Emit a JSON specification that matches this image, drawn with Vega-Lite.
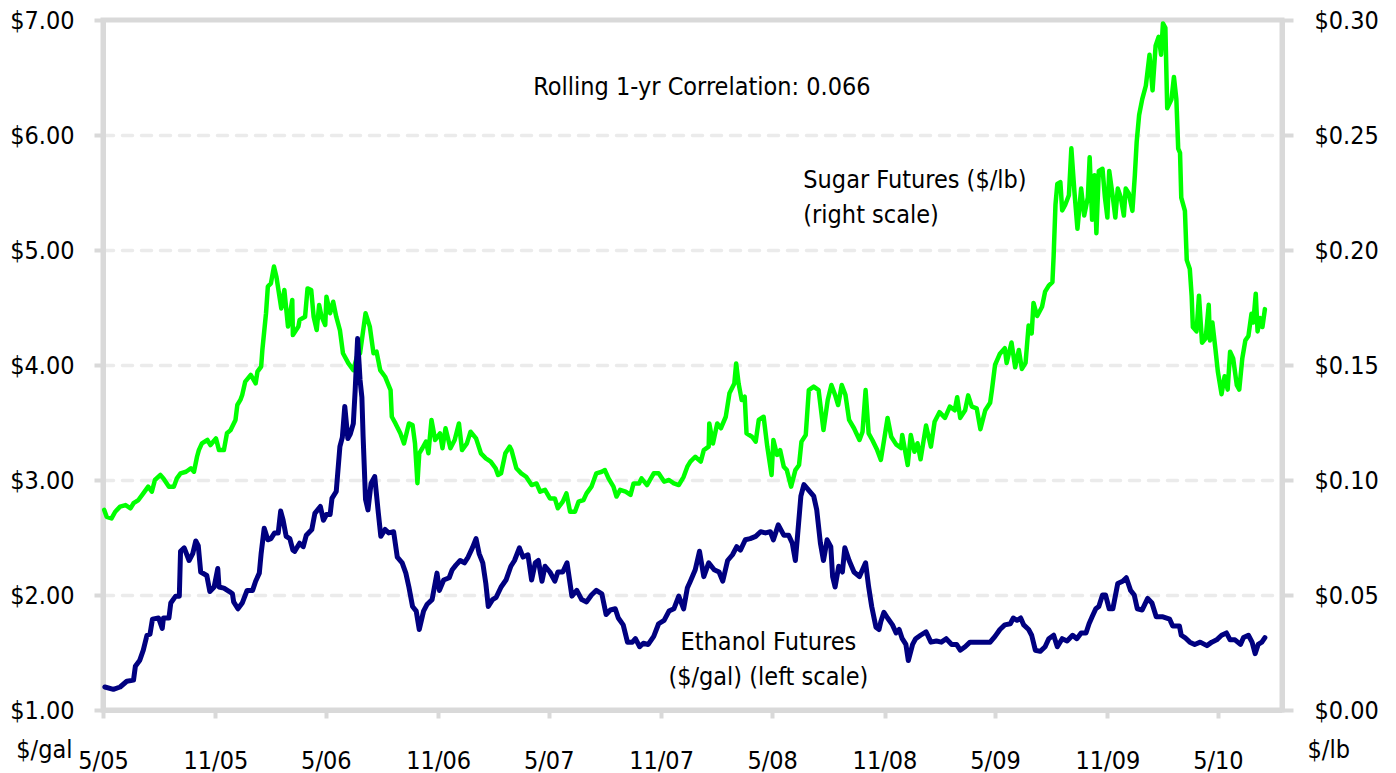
{
  "$schema": "https://vega.github.io/schema/vega-lite/v6.json",
  "width": 1179,
  "height": 690,
  "autosize": {"type": "none"},
  "padding": {"left": 103, "top": 20, "right": 114, "bottom": 63},
  "background": "white",
  "config": {
    "font": "'DejaVu Sans Condensed', 'Liberation Sans', sans-serif",
    "view": {"stroke": "#d9d9d9", "strokeWidth": 5},
    "axis": {
      "labelFont": "'DejaVu Sans Condensed', 'Liberation Sans', sans-serif", "labelFontSize": 25, "labelColor": "#000000",
      "titleFont": "'DejaVu Sans Condensed', 'Liberation Sans', sans-serif", "titleFontSize": 25, "titleFontWeight": "normal", "titleColor": "#000000",
      "domainColor": "#d9d9d9", "domainWidth": 5, "tickColor": "#d9d9d9", "tickWidth": 4,
      "labelOverlap": false, "labelFlush": false
    },
    "text": {"font": "'DejaVu Sans Condensed', 'Liberation Sans', sans-serif", "fontSize": 25, "color": "#000000"}
  },
  "datasets": {
    "sugar": [
      {"date":"2005-05-03","price":0.0870},{"date":"2005-05-07","price":0.0840},{"date":"2005-05-15","price":0.0833},{"date":"2005-05-21","price":0.0862},{"date":"2005-05-29","price":0.0884},
      {"date":"2005-06-07","price":0.0891},{"date":"2005-06-15","price":0.0877},{"date":"2005-06-20","price":0.0899},{"date":"2005-06-28","price":0.0913},{"date":"2005-07-06","price":0.0942},
      {"date":"2005-07-14","price":0.0971},{"date":"2005-07-20","price":0.0949},{"date":"2005-07-25","price":0.1000},{"date":"2005-08-03","price":0.1022},{"date":"2005-08-08","price":0.1007},
      {"date":"2005-08-17","price":0.0971},{"date":"2005-08-25","price":0.0971},{"date":"2005-08-30","price":0.1007},{"date":"2005-09-05","price":0.1029},{"date":"2005-09-14","price":0.1036},
      {"date":"2005-09-22","price":0.1051},{"date":"2005-09-27","price":0.1036},{"date":"2005-10-02","price":0.1101},{"date":"2005-10-05","price":0.1130},{"date":"2005-10-10","price":0.1159},
      {"date":"2005-10-19","price":0.1174},{"date":"2005-10-24","price":0.1152},{"date":"2005-11-02","price":0.1181},{"date":"2005-11-07","price":0.1130},{"date":"2005-11-15","price":0.1130},
      {"date":"2005-11-20","price":0.1203},{"date":"2005-11-26","price":0.1217},{"date":"2005-12-04","price":0.1261},{"date":"2005-12-07","price":0.1326},{"date":"2005-12-12","price":0.1348},
      {"date":"2005-12-15","price":0.1370},{"date":"2005-12-20","price":0.1428},{"date":"2005-12-29","price":0.1457},{"date":"2006-01-06","price":0.1420},{"date":"2006-01-09","price":0.1471},
      {"date":"2006-01-15","price":0.1493},{"date":"2006-01-17","price":0.1565},{"date":"2006-01-23","price":0.1725},{"date":"2006-01-26","price":0.1841},{"date":"2006-01-31","price":0.1855},
      {"date":"2006-02-05","price":0.1928},{"date":"2006-02-09","price":0.1884},{"date":"2006-02-17","price":0.1746},{"date":"2006-02-22","price":0.1826},{"date":"2006-02-28","price":0.1667},
      {"date":"2006-03-07","price":0.1783},{"date":"2006-03-08","price":0.1630},{"date":"2006-03-17","price":0.1667},{"date":"2006-03-19","price":0.1696},{"date":"2006-03-28","price":0.1710},
      {"date":"2006-04-01","price":0.1833},{"date":"2006-04-07","price":0.1826},{"date":"2006-04-11","price":0.1710},{"date":"2006-04-16","price":0.1652},{"date":"2006-04-20","price":0.1761},
      {"date":"2006-04-24","price":0.1710},{"date":"2006-04-30","price":0.1674},{"date":"2006-05-02","price":0.1797},{"date":"2006-05-08","price":0.1725},{"date":"2006-05-13","price":0.1775},
      {"date":"2006-05-18","price":0.1710},{"date":"2006-05-24","price":0.1652},{"date":"2006-05-29","price":0.1551},{"date":"2006-06-07","price":0.1507},{"date":"2006-06-15","price":0.1478},
      {"date":"2006-06-21","price":0.1536},{"date":"2006-06-26","price":0.1551},{"date":"2006-07-05","price":0.1725},{"date":"2006-07-12","price":0.1667},{"date":"2006-07-18","price":0.1551},
      {"date":"2006-07-23","price":0.1558},{"date":"2006-07-29","price":0.1478},{"date":"2006-08-06","price":0.1449},{"date":"2006-08-15","price":0.1391},{"date":"2006-08-17","price":0.1275},
      {"date":"2006-08-23","price":0.1246},{"date":"2006-08-31","price":0.1203},{"date":"2006-09-06","price":0.1159},{"date":"2006-09-14","price":0.1246},{"date":"2006-09-20","price":0.1239},
      {"date":"2006-09-24","price":0.1159},{"date":"2006-09-28","price":0.0986},{"date":"2006-10-01","price":0.1116},{"date":"2006-10-06","price":0.1138},{"date":"2006-10-12","price":0.1167},
      {"date":"2006-10-16","price":0.1116},{"date":"2006-10-21","price":0.1261},{"date":"2006-10-27","price":0.1174},{"date":"2006-11-04","price":0.1203},{"date":"2006-11-08","price":0.1138},
      {"date":"2006-11-13","price":0.1225},{"date":"2006-11-21","price":0.1138},{"date":"2006-11-28","price":0.1174},{"date":"2006-12-05","price":0.1246},{"date":"2006-12-10","price":0.1130},
      {"date":"2006-12-18","price":0.1159},{"date":"2006-12-24","price":0.1210},{"date":"2007-01-02","price":0.1181},{"date":"2007-01-10","price":0.1116},{"date":"2007-01-18","price":0.1094},
      {"date":"2007-01-26","price":0.1080},{"date":"2007-02-03","price":0.1051},{"date":"2007-02-07","price":0.1022},{"date":"2007-02-12","price":0.1029},{"date":"2007-02-19","price":0.1116},
      {"date":"2007-02-26","price":0.1145},{"date":"2007-03-01","price":0.1130},{"date":"2007-03-09","price":0.1051},{"date":"2007-03-17","price":0.1029},{"date":"2007-03-25","price":0.1014},
      {"date":"2007-04-03","price":0.0978},{"date":"2007-04-11","price":0.0985},{"date":"2007-04-17","price":0.0949},{"date":"2007-04-25","price":0.0957},{"date":"2007-05-03","price":0.0920},
      {"date":"2007-05-11","price":0.0920},{"date":"2007-05-16","price":0.0877},{"date":"2007-05-24","price":0.0906},{"date":"2007-05-30","price":0.0942},{"date":"2007-06-05","price":0.0862},
      {"date":"2007-06-13","price":0.0862},{"date":"2007-06-19","price":0.0906},{"date":"2007-06-27","price":0.0913},{"date":"2007-07-02","price":0.0942},{"date":"2007-07-10","price":0.0971},
      {"date":"2007-07-18","price":0.1029},{"date":"2007-07-27","price":0.1036},{"date":"2007-08-01","price":0.1043},{"date":"2007-08-07","price":0.1007},{"date":"2007-08-15","price":0.0971},
      {"date":"2007-08-20","price":0.0928},{"date":"2007-08-26","price":0.0957},{"date":"2007-09-04","price":0.0949},{"date":"2007-09-12","price":0.0935},{"date":"2007-09-17","price":0.0985},
      {"date":"2007-09-26","price":0.0985},{"date":"2007-09-30","price":0.1007},{"date":"2007-10-09","price":0.0978},{"date":"2007-10-20","price":0.1029},{"date":"2007-10-28","price":0.1029},
      {"date":"2007-11-06","price":0.0993},{"date":"2007-11-14","price":0.1000},{"date":"2007-11-22","price":0.0985},{"date":"2007-11-30","price":0.0978},{"date":"2007-12-08","price":0.1014},
      {"date":"2007-12-14","price":0.1058},{"date":"2007-12-19","price":0.1080},{"date":"2007-12-27","price":0.1101},{"date":"2008-01-05","price":0.1080},{"date":"2008-01-10","price":0.1130},
      {"date":"2008-01-18","price":0.1145},{"date":"2008-01-19","price":0.1246},{"date":"2008-01-25","price":0.1159},{"date":"2008-02-01","price":0.1246},{"date":"2008-02-07","price":0.1225},
      {"date":"2008-02-15","price":0.1275},{"date":"2008-02-21","price":0.1377},{"date":"2008-02-29","price":0.1420},{"date":"2008-03-03","price":0.1507},{"date":"2008-03-07","price":0.1420},
      {"date":"2008-03-12","price":0.1348},{"date":"2008-03-17","price":0.1362},{"date":"2008-03-20","price":0.1203},{"date":"2008-03-29","price":0.1188},{"date":"2008-04-04","price":0.1167},
      {"date":"2008-04-09","price":0.1261},{"date":"2008-04-17","price":0.1275},{"date":"2008-04-23","price":0.1145},{"date":"2008-04-30","price":0.1022},{"date":"2008-05-03","price":0.1174},
      {"date":"2008-05-09","price":0.1109},{"date":"2008-05-14","price":0.1130},{"date":"2008-05-20","price":0.1058},{"date":"2008-05-25","price":0.1043},{"date":"2008-06-01","price":0.0971},
      {"date":"2008-06-08","price":0.1043},{"date":"2008-06-14","price":0.1065},{"date":"2008-06-18","price":0.1167},{"date":"2008-06-25","price":0.1196},{"date":"2008-06-30","price":0.1391},
      {"date":"2008-07-08","price":0.1406},{"date":"2008-07-16","price":0.1391},{"date":"2008-07-24","price":0.1217},{"date":"2008-07-31","price":0.1348},{"date":"2008-08-06","price":0.1413},
      {"date":"2008-08-12","price":0.1370},{"date":"2008-08-17","price":0.1326},{"date":"2008-08-23","price":0.1413},{"date":"2008-08-29","price":0.1370},{"date":"2008-09-04","price":0.1261},
      {"date":"2008-09-12","price":0.1225},{"date":"2008-09-21","price":0.1174},{"date":"2008-09-26","price":0.1210},{"date":"2008-10-01","price":0.1391},{"date":"2008-10-06","price":0.1203},
      {"date":"2008-10-12","price":0.1174},{"date":"2008-10-20","price":0.1130},{"date":"2008-10-26","price":0.1087},{"date":"2008-11-02","price":0.1203},{"date":"2008-11-06","price":0.1270},
      {"date":"2008-11-12","price":0.1188},{"date":"2008-11-20","price":0.1155},{"date":"2008-11-28","price":0.1139},{"date":"2008-11-30","price":0.1196},{"date":"2008-12-09","price":0.1065},
      {"date":"2008-12-14","price":0.1196},{"date":"2008-12-20","price":0.1123},{"date":"2008-12-25","price":0.1160},{"date":"2008-12-30","price":0.1090},{"date":"2009-01-08","price":0.1237},
      {"date":"2009-01-16","price":0.1145},{"date":"2009-01-22","price":0.1253},{"date":"2009-01-30","price":0.1295},{"date":"2009-02-08","price":0.1270},{"date":"2009-02-16","price":0.1319},
      {"date":"2009-02-24","price":0.1303},{"date":"2009-02-28","price":0.1360},{"date":"2009-03-05","price":0.1270},{"date":"2009-03-13","price":0.1303},{"date":"2009-03-18","price":0.1368},
      {"date":"2009-03-24","price":0.1319},{"date":"2009-04-01","price":0.1311},{"date":"2009-04-07","price":0.1221},{"date":"2009-04-15","price":0.1303},{"date":"2009-04-23","price":0.1336},
      {"date":"2009-04-26","price":0.1393},{"date":"2009-05-01","price":0.1500},{"date":"2009-05-09","price":0.1549},{"date":"2009-05-17","price":0.1573},{"date":"2009-05-20","price":0.1509},
      {"date":"2009-05-28","price":0.1598},{"date":"2009-06-03","price":0.1490},{"date":"2009-06-09","price":0.1565},{"date":"2009-06-14","price":0.1483},{"date":"2009-06-20","price":0.1509},
      {"date":"2009-06-25","price":0.1672},{"date":"2009-06-30","price":0.1637},{"date":"2009-07-03","price":0.1770},{"date":"2009-07-09","price":0.1713},{"date":"2009-07-17","price":0.1753},
      {"date":"2009-07-22","price":0.1819},{"date":"2009-07-28","price":0.1845},{"date":"2009-08-03","price":0.1860},{"date":"2009-08-05","price":0.1975},{"date":"2009-08-08","price":0.2197},
      {"date":"2009-08-11","price":0.2287},{"date":"2009-08-16","price":0.2295},{"date":"2009-08-19","price":0.2172},{"date":"2009-08-24","price":0.2197},{"date":"2009-08-30","price":0.2238},
      {"date":"2009-09-03","price":0.2442},{"date":"2009-09-08","price":0.2254},{"date":"2009-09-13","price":0.2092},{"date":"2009-09-19","price":0.2267},{"date":"2009-09-24","price":0.2150},
      {"date":"2009-09-30","price":0.2228},{"date":"2009-10-03","price":0.2403},{"date":"2009-10-07","price":0.2131},{"date":"2009-10-11","price":0.2325},{"date":"2009-10-14","price":0.2073},
      {"date":"2009-10-18","price":0.2344},{"date":"2009-10-24","price":0.2353},{"date":"2009-10-28","price":0.2228},{"date":"2009-11-01","price":0.2141},{"date":"2009-11-04","price":0.2344},
      {"date":"2009-11-10","price":0.2228},{"date":"2009-11-14","price":0.2141},{"date":"2009-11-18","price":0.2267},{"date":"2009-11-23","price":0.2228},{"date":"2009-11-28","price":0.2150},
      {"date":"2009-12-01","price":0.2267},{"date":"2009-12-06","price":0.2247},{"date":"2009-12-12","price":0.2170},{"date":"2009-12-16","price":0.2325},{"date":"2009-12-19","price":0.2470},
      {"date":"2009-12-23","price":0.2587},{"date":"2009-12-28","price":0.2655},{"date":"2010-01-03","price":0.2714},{"date":"2010-01-09","price":0.2849},{"date":"2010-01-14","price":0.2694},
      {"date":"2010-01-19","price":0.2888},{"date":"2010-01-24","price":0.2927},{"date":"2010-01-28","price":0.2849},{"date":"2010-01-31","price":0.2985},{"date":"2010-02-04","price":0.2966},
      {"date":"2010-02-07","price":0.2616},{"date":"2010-02-14","price":0.2655},{"date":"2010-02-18","price":0.2752},{"date":"2010-02-22","price":0.2655},{"date":"2010-02-25","price":0.2441},
      {"date":"2010-02-28","price":0.2422},{"date":"2010-03-02","price":0.2228},{"date":"2010-03-08","price":0.2170},{"date":"2010-03-11","price":0.1956},{"date":"2010-03-16","price":0.1917},
      {"date":"2010-03-19","price":0.1801},{"date":"2010-03-21","price":0.1665},{"date":"2010-03-27","price":0.1646},{"date":"2010-03-31","price":0.1801},{"date":"2010-04-05","price":0.1597},
      {"date":"2010-04-11","price":0.1616},{"date":"2010-04-16","price":0.1762},{"date":"2010-04-18","price":0.1607},{"date":"2010-04-22","price":0.1685},{"date":"2010-04-27","price":0.1568},
      {"date":"2010-05-01","price":0.1470},{"date":"2010-05-07","price":0.1373},{"date":"2010-05-12","price":0.1451},{"date":"2010-05-17","price":0.1393},{"date":"2010-05-21","price":0.1558},
      {"date":"2010-05-26","price":0.1529},{"date":"2010-06-01","price":0.1412},{"date":"2010-06-05","price":0.1393},{"date":"2010-06-10","price":0.1529},{"date":"2010-06-15","price":0.1607},
      {"date":"2010-06-20","price":0.1626},{"date":"2010-06-25","price":0.1723},{"date":"2010-06-28","price":0.1685},{"date":"2010-07-02","price":0.1810},{"date":"2010-07-05","price":0.1646},
      {"date":"2010-07-09","price":0.1704},{"date":"2010-07-13","price":0.1665},{"date":"2010-07-17","price":0.1743}
    ],
    "ethanol": [
      {"date":"2005-05-04","price":1.20},{"date":"2005-05-18","price":1.18},{"date":"2005-05-29","price":1.20},{"date":"2005-06-09","price":1.25},{"date":"2005-06-20","price":1.26},
      {"date":"2005-06-23","price":1.38},{"date":"2005-06-30","price":1.43},{"date":"2005-07-06","price":1.52},{"date":"2005-07-12","price":1.65},{"date":"2005-07-17","price":1.66},
      {"date":"2005-07-21","price":1.79},{"date":"2005-07-31","price":1.80},{"date":"2005-08-06","price":1.71},{"date":"2005-08-08","price":1.80},{"date":"2005-08-17","price":1.80},
      {"date":"2005-08-20","price":1.93},{"date":"2005-08-28","price":1.99},{"date":"2005-09-03","price":1.99},{"date":"2005-09-05","price":2.38},{"date":"2005-09-11","price":2.41},
      {"date":"2005-09-19","price":2.30},{"date":"2005-09-25","price":2.36},{"date":"2005-09-30","price":2.47},{"date":"2005-10-04","price":2.43},{"date":"2005-10-08","price":2.20},
      {"date":"2005-10-18","price":2.17},{"date":"2005-10-23","price":2.03},{"date":"2005-10-30","price":2.07},{"date":"2005-11-05","price":2.23},{"date":"2005-11-07","price":2.07},
      {"date":"2005-11-15","price":2.06},{"date":"2005-11-24","price":2.03},{"date":"2005-11-29","price":2.01},{"date":"2005-12-01","price":1.94},{"date":"2005-12-08","price":1.88},
      {"date":"2005-12-15","price":1.93},{"date":"2005-12-23","price":2.04},{"date":"2006-01-01","price":2.04},{"date":"2006-01-06","price":2.12},{"date":"2006-01-12","price":2.19},
      {"date":"2006-01-15","price":2.36},{"date":"2006-01-20","price":2.58},{"date":"2006-01-26","price":2.48},{"date":"2006-01-31","price":2.49},{"date":"2006-02-06","price":2.54},
      {"date":"2006-02-12","price":2.54},{"date":"2006-02-16","price":2.73},{"date":"2006-02-20","price":2.65},{"date":"2006-02-25","price":2.51},{"date":"2006-03-03","price":2.49},
      {"date":"2006-03-08","price":2.39},{"date":"2006-03-11","price":2.38},{"date":"2006-03-19","price":2.45},{"date":"2006-03-25","price":2.42},{"date":"2006-03-30","price":2.52},
      {"date":"2006-04-08","price":2.57},{"date":"2006-04-13","price":2.71},{"date":"2006-04-22","price":2.77},{"date":"2006-04-27","price":2.65},{"date":"2006-05-02","price":2.70},
      {"date":"2006-05-08","price":2.70},{"date":"2006-05-11","price":2.84},{"date":"2006-05-18","price":2.90},{"date":"2006-05-24","price":3.29},{"date":"2006-05-28","price":3.37},
      {"date":"2006-06-01","price":3.64},{"date":"2006-06-06","price":3.36},{"date":"2006-06-10","price":3.40},{"date":"2006-06-15","price":3.49},{"date":"2006-06-18","price":3.78},
      {"date":"2006-06-22","price":4.23},{"date":"2006-06-26","price":3.87},{"date":"2006-06-29","price":3.72},{"date":"2006-07-01","price":3.38},{"date":"2006-07-05","price":2.83},
      {"date":"2006-07-09","price":2.74},{"date":"2006-07-14","price":2.97},{"date":"2006-07-20","price":3.03},{"date":"2006-07-26","price":2.71},{"date":"2006-07-30","price":2.51},
      {"date":"2006-08-06","price":2.57},{"date":"2006-08-12","price":2.54},{"date":"2006-08-20","price":2.55},{"date":"2006-08-26","price":2.33},{"date":"2006-09-03","price":2.28},
      {"date":"2006-09-09","price":2.19},{"date":"2006-09-14","price":2.07},{"date":"2006-09-20","price":1.90},{"date":"2006-09-26","price":1.86},{"date":"2006-10-01","price":1.70},
      {"date":"2006-10-08","price":1.86},{"date":"2006-10-14","price":1.92},{"date":"2006-10-22","price":1.96},{"date":"2006-10-30","price":2.19},{"date":"2006-11-03","price":2.04},
      {"date":"2006-11-10","price":2.13},{"date":"2006-11-19","price":2.15},{"date":"2006-11-24","price":2.22},{"date":"2006-11-30","price":2.26},{"date":"2006-12-07","price":2.30},
      {"date":"2006-12-14","price":2.28},{"date":"2006-12-20","price":2.33},{"date":"2006-12-27","price":2.41},{"date":"2007-01-02","price":2.49},{"date":"2007-01-07","price":2.36},
      {"date":"2007-01-13","price":2.28},{"date":"2007-01-18","price":2.10},{"date":"2007-01-22","price":1.90},{"date":"2007-01-29","price":1.96},{"date":"2007-02-04","price":1.98},
      {"date":"2007-02-12","price":2.07},{"date":"2007-02-20","price":2.13},{"date":"2007-02-28","price":2.25},{"date":"2007-03-06","price":2.30},{"date":"2007-03-14","price":2.41},
      {"date":"2007-03-20","price":2.33},{"date":"2007-03-28","price":2.35},{"date":"2007-04-03","price":2.13},{"date":"2007-04-09","price":2.28},{"date":"2007-04-14","price":2.30},
      {"date":"2007-04-20","price":2.12},{"date":"2007-04-25","price":2.25},{"date":"2007-05-03","price":2.20},{"date":"2007-05-11","price":2.12},{"date":"2007-05-16","price":2.20},
      {"date":"2007-05-24","price":2.20},{"date":"2007-05-31","price":2.28},{"date":"2007-06-08","price":1.99},{"date":"2007-06-16","price":2.04},{"date":"2007-06-24","price":1.96},
      {"date":"2007-07-02","price":1.94},{"date":"2007-07-10","price":2.00},{"date":"2007-07-18","price":2.04},{"date":"2007-07-27","price":2.01},{"date":"2007-08-03","price":1.83},
      {"date":"2007-08-10","price":1.87},{"date":"2007-08-18","price":1.88},{"date":"2007-08-23","price":1.80},{"date":"2007-08-31","price":1.74},{"date":"2007-09-07","price":1.59},
      {"date":"2007-09-15","price":1.59},{"date":"2007-09-20","price":1.62},{"date":"2007-09-27","price":1.55},{"date":"2007-10-03","price":1.58},{"date":"2007-10-11","price":1.57},
      {"date":"2007-10-20","price":1.64},{"date":"2007-10-28","price":1.75},{"date":"2007-11-06","price":1.78},{"date":"2007-11-14","price":1.86},{"date":"2007-11-22","price":1.88},
      {"date":"2007-11-30","price":1.99},{"date":"2007-12-08","price":1.88},{"date":"2007-12-14","price":2.06},{"date":"2007-12-19","price":2.12},{"date":"2007-12-27","price":2.22},
      {"date":"2008-01-03","price":2.38},{"date":"2008-01-10","price":2.16},{"date":"2008-01-18","price":2.28},{"date":"2008-01-27","price":2.22},{"date":"2008-02-04","price":2.20},
      {"date":"2008-02-10","price":2.12},{"date":"2008-02-18","price":2.30},{"date":"2008-02-26","price":2.35},{"date":"2008-03-04","price":2.42},{"date":"2008-03-10","price":2.39},
      {"date":"2008-03-18","price":2.48},{"date":"2008-03-26","price":2.49},{"date":"2008-04-04","price":2.51},{"date":"2008-04-12","price":2.55},{"date":"2008-04-20","price":2.54},
      {"date":"2008-04-28","price":2.55},{"date":"2008-05-03","price":2.48},{"date":"2008-05-11","price":2.61},{"date":"2008-05-20","price":2.52},{"date":"2008-05-28","price":2.52},
      {"date":"2008-06-03","price":2.45},{"date":"2008-06-08","price":2.30},{"date":"2008-06-11","price":2.48},{"date":"2008-06-17","price":2.86},{"date":"2008-06-22","price":2.96},
      {"date":"2008-06-30","price":2.91},{"date":"2008-07-08","price":2.86},{"date":"2008-07-13","price":2.74},{"date":"2008-07-19","price":2.45},{"date":"2008-07-24","price":2.30},
      {"date":"2008-07-30","price":2.48},{"date":"2008-08-05","price":2.42},{"date":"2008-08-08","price":2.16},{"date":"2008-08-12","price":2.07},{"date":"2008-08-18","price":2.25},
      {"date":"2008-08-24","price":2.20},{"date":"2008-08-28","price":2.41},{"date":"2008-09-04","price":2.30},{"date":"2008-09-12","price":2.20},{"date":"2008-09-21","price":2.16},
      {"date":"2008-10-01","price":2.28},{"date":"2008-10-06","price":2.07},{"date":"2008-10-11","price":1.90},{"date":"2008-10-18","price":1.72},{"date":"2008-10-23","price":1.70},
      {"date":"2008-10-26","price":1.77},{"date":"2008-10-31","price":1.85},{"date":"2008-11-06","price":1.80},{"date":"2008-11-14","price":1.74},{"date":"2008-11-20","price":1.67},
      {"date":"2008-11-25","price":1.70},{"date":"2008-11-30","price":1.62},{"date":"2008-12-06","price":1.57},{"date":"2008-12-10","price":1.43},{"date":"2008-12-17","price":1.57},
      {"date":"2008-12-22","price":1.62},{"date":"2008-12-30","price":1.65},{"date":"2009-01-08","price":1.68},{"date":"2009-01-16","price":1.59},{"date":"2009-01-25","price":1.60},
      {"date":"2009-02-02","price":1.59},{"date":"2009-02-10","price":1.62},{"date":"2009-02-19","price":1.57},{"date":"2009-02-27","price":1.57},{"date":"2009-03-05","price":1.52},
      {"date":"2009-03-13","price":1.55},{"date":"2009-03-21","price":1.59},{"date":"2009-03-29","price":1.59},{"date":"2009-04-07","price":1.59},{"date":"2009-04-15","price":1.59},
      {"date":"2009-04-23","price":1.59},{"date":"2009-05-01","price":1.64},{"date":"2009-05-09","price":1.70},{"date":"2009-05-17","price":1.74},{"date":"2009-05-26","price":1.75},
      {"date":"2009-05-31","price":1.80},{"date":"2009-06-06","price":1.78},{"date":"2009-06-12","price":1.80},{"date":"2009-06-17","price":1.74},{"date":"2009-06-25","price":1.70},
      {"date":"2009-06-30","price":1.65},{"date":"2009-07-06","price":1.52},{"date":"2009-07-14","price":1.51},{"date":"2009-07-22","price":1.55},{"date":"2009-07-28","price":1.62},
      {"date":"2009-08-05","price":1.65},{"date":"2009-08-11","price":1.55},{"date":"2009-08-19","price":1.62},{"date":"2009-08-27","price":1.60},{"date":"2009-09-05","price":1.65},
      {"date":"2009-09-12","price":1.62},{"date":"2009-09-19","price":1.67},{"date":"2009-09-27","price":1.67},{"date":"2009-10-02","price":1.75},{"date":"2009-10-07","price":1.81},
      {"date":"2009-10-13","price":1.88},{"date":"2009-10-18","price":1.90},{"date":"2009-10-24","price":2.00},{"date":"2009-10-29","price":2.00},{"date":"2009-11-04","price":1.88},
      {"date":"2009-11-10","price":1.88},{"date":"2009-11-18","price":2.10},{"date":"2009-11-26","price":2.12},{"date":"2009-12-02","price":2.15},{"date":"2009-12-09","price":2.04},
      {"date":"2009-12-15","price":2.00},{"date":"2009-12-20","price":1.88},{"date":"2009-12-28","price":1.87},{"date":"2010-01-06","price":1.97},{"date":"2010-01-13","price":1.93},
      {"date":"2010-01-20","price":1.81},{"date":"2010-01-31","price":1.81},{"date":"2010-02-11","price":1.79},{"date":"2010-02-16","price":1.73},{"date":"2010-02-27","price":1.73},
      {"date":"2010-03-02","price":1.65},{"date":"2010-03-08","price":1.63},{"date":"2010-03-16","price":1.59},{"date":"2010-03-24","price":1.57},{"date":"2010-04-02","price":1.59},
      {"date":"2010-04-13","price":1.56},{"date":"2010-04-21","price":1.59},{"date":"2010-04-29","price":1.61},{"date":"2010-05-07","price":1.65},{"date":"2010-05-15","price":1.67},
      {"date":"2010-05-21","price":1.61},{"date":"2010-05-29","price":1.61},{"date":"2010-06-07","price":1.57},{"date":"2010-06-12","price":1.63},{"date":"2010-06-20","price":1.65},
      {"date":"2010-06-26","price":1.59},{"date":"2010-07-01","price":1.49},{"date":"2010-07-06","price":1.57},{"date":"2010-07-12","price":1.59},{"date":"2010-07-17","price":1.63}
    ]
  },
  "layer": [
    {
      "data": {"name": "sugar"},
      "mark": {"type": "line", "color": "#00ff00", "strokeWidth": 4.5, "strokeJoin": "round", "strokeCap": "round"},
      "encoding": {
        "x": {
          "field": "date", "type": "temporal",
          "scale": {"type": "utc", "domain": [{"year": 2005, "month": 5, "date": 1, "utc": true}, {"year": 2010, "month": 8, "date": 14, "utc": true}]},
          "axis": {
            "title": null, "format": "%-m/%y", "grid": false, "tickSize": 8, "labelPadding": 30,
            "values": [
              {"year": 2005, "month": 5, "date": 1, "utc": true}, {"year": 2005, "month": 11, "date": 1, "utc": true},
              {"year": 2006, "month": 5, "date": 1, "utc": true}, {"year": 2006, "month": 11, "date": 1, "utc": true},
              {"year": 2007, "month": 5, "date": 1, "utc": true}, {"year": 2007, "month": 11, "date": 1, "utc": true},
              {"year": 2008, "month": 5, "date": 1, "utc": true}, {"year": 2008, "month": 11, "date": 1, "utc": true},
              {"year": 2009, "month": 5, "date": 1, "utc": true}, {"year": 2009, "month": 11, "date": 1, "utc": true},
              {"year": 2010, "month": 5, "date": 1, "utc": true}
            ]
          }
        },
        "y": {
          "field": "price", "type": "quantitative",
          "scale": {"domain": [0, 0.3], "nice": false, "zero": false},
          "axis": {
            "orient": "right", "values": [0, 0.05, 0.1, 0.15, 0.2, 0.25, 0.3], "format": "$.2f",
            "grid": false, "tickSize": 11, "labelPadding": 21,
            "title": "$/lb", "titleAngle": 0, "titleAlign": "left", "titleBaseline": "alphabetic", "titleX": 25, "titleY": 737
          }
        }
      }
    },
    {
      "layer": [
        {
          "data": {"name": "ethanol"},
          "mark": {"type": "line", "color": "#000080", "strokeWidth": 5, "strokeJoin": "round", "strokeCap": "round"},
          "encoding": {
            "x": {"field": "date", "type": "temporal", "scale": {"type": "utc", "domain": [{"year": 2005, "month": 5, "date": 1, "utc": true}, {"year": 2010, "month": 8, "date": 14, "utc": true}]}},
            "y": {
              "field": "price", "type": "quantitative",
              "scale": {"domain": [1, 7], "nice": false, "zero": false},
              "axis": {
                "orient": "left", "values": [1, 2, 3, 4, 5, 6, 7], "format": "$.2f",
                "tickSize": 9, "labelPadding": 20,
                "grid": true, "gridWidth": 3.5, "gridDash": [10, 9], "gridCap": "round",
                "gridColor": {"condition": {"test": "datum.value <= 1 || datum.value >= 7", "value": "rgba(0,0,0,0)"}, "value": "#ebebeb"},
                "title": "$/gal", "titleAngle": 0, "titleAlign": "right", "titleBaseline": "alphabetic", "titleX": -31, "titleY": 737
              }
            }
          }
        },
        {
          "data": {"values": [{}]},
          "mark": {"type": "text", "text": "Rolling 1-yr Correlation: 0.066", "align": "center", "baseline": "alphabetic"},
          "encoding": {
            "x": {"datum": {"year": 2008, "month": 1, "date": 7, "utc": true}, "type": "temporal", "scale": {"type": "utc"}},
            "y": {"datum": 6.348, "type": "quantitative"}
          }
        },
        {
          "data": {"values": [{}]},
          "mark": {"type": "text", "text": "Sugar Futures ($/lb)", "align": "left", "baseline": "alphabetic"},
          "encoding": {
            "x": {"datum": {"year": 2008, "month": 6, "date": 21, "utc": true}, "type": "temporal", "scale": {"type": "utc"}},
            "y": {"datum": 5.539, "type": "quantitative"}
          }
        },
        {
          "data": {"values": [{}]},
          "mark": {"type": "text", "text": "(right scale)", "align": "left", "baseline": "alphabetic"},
          "encoding": {
            "x": {"datum": {"year": 2008, "month": 6, "date": 21, "utc": true}, "type": "temporal", "scale": {"type": "utc"}},
            "y": {"datum": 5.235, "type": "quantitative"}
          }
        },
        {
          "data": {"values": [{}]},
          "mark": {"type": "text", "text": "Ethanol Futures", "align": "left", "baseline": "alphabetic"},
          "encoding": {
            "x": {"datum": {"year": 2007, "month": 12, "date": 3, "utc": true}, "type": "temporal", "scale": {"type": "utc"}},
            "y": {"datum": 1.522, "type": "quantitative"}
          }
        },
        {
          "data": {"values": [{}]},
          "mark": {"type": "text", "text": "($/gal) (left scale)", "align": "left", "baseline": "alphabetic"},
          "encoding": {
            "x": {"datum": {"year": 2007, "month": 11, "date": 13, "utc": true}, "type": "temporal", "scale": {"type": "utc"}},
            "y": {"datum": 1.217, "type": "quantitative"}
          }
        }
      ]
    }
  ],
  "resolve": {"scale": {"y": "independent"}}
}
